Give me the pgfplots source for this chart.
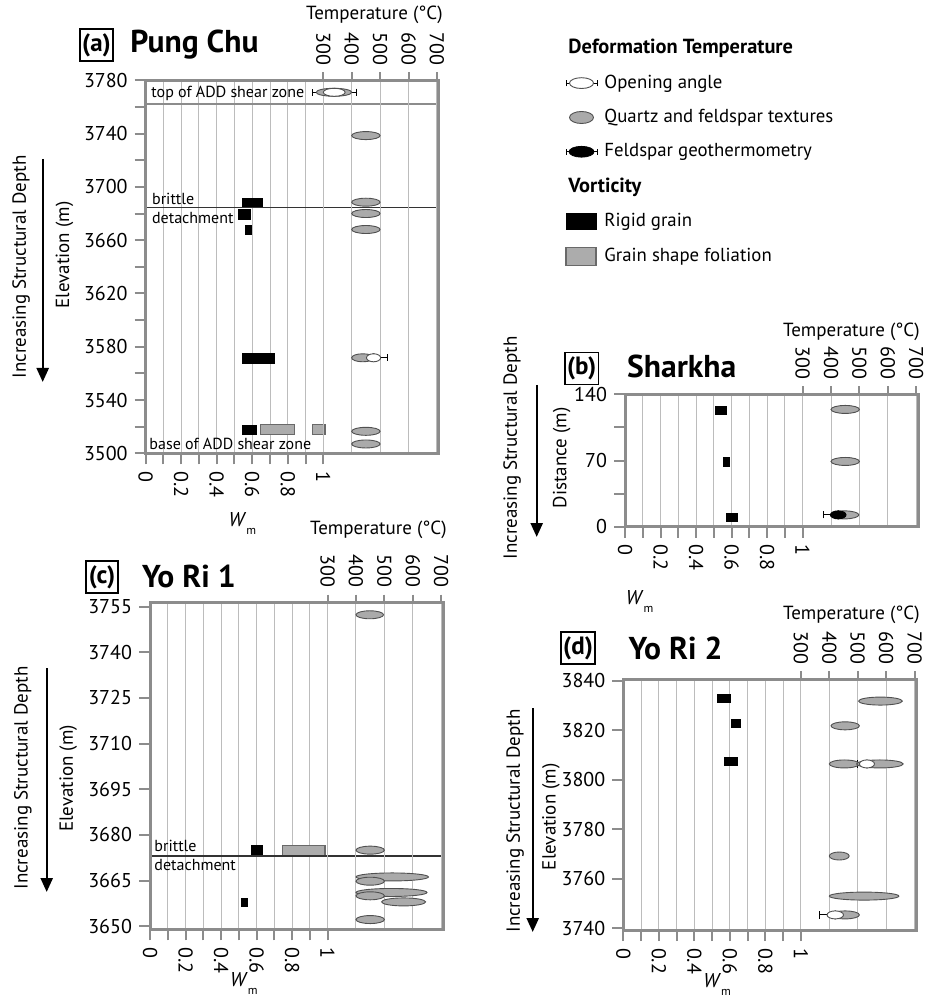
\documentclass[border=0pt]{standalone}
\usepackage{fontspec}
\setmainfont{PT Sans}
\usepackage{pgfplots}
\usepackage{pgfplotstable}
\pgfplotsset{compat=1.18}
\usetikzlibrary{arrows.meta}

\definecolor{framegray}{RGB}{140,140,140}
\definecolor{gridgray}{RGB}{188,188,188}
\definecolor{qfill}{RGB}{170,170,170}
\definecolor{qedge}{RGB}{80,80,80}
\definecolor{gsffill}{RGB}{172,172,172}
\definecolor{gsfedge}{RGB}{105,105,105}

\newcommand{\ticksize}{\fontsize{10}{12}\selectfont}
\newcommand{\labsize}{\fontsize{9.5}{11}\selectfont}
\newcommand{\keysize}{\fontsize{9.4}{11}\selectfont}
\newcommand{\keyhead}[1]{{\fontsize{10.2}{12}\selectfont\bfseries #1}}
\newcommand{\notesize}{\fontsize{8}{10}\selectfont}
\newcommand{\wm}{\textit{W}\raisebox{-4pt}{\fontsize{6}{7}\selectfont m}}

% temperature axes: 146.5pt wide over 1031.25 degrees C
\newcommand{\Tunit}{0.142061}

% ellipse marker, horizontal radius given per point in \ellrx
\pgfdeclareplotmark{ell}{%
  \pgfpathellipse{\pgfpointorigin}{\pgfpoint{\ellrx}{0pt}}{\pgfpoint{0pt}{\pgfplotmarksize}}%
  \pgfusepathqfillstroke}

%---------------- data ----------------
% temperature ranges (deg C) from quartz and feldspar textures
\pgfplotstableread{
lo  hi  y
275 400 3771
400 500 3738.5
400 500 3688.5
400 500 3680
400 500 3668
400 478 3571.7
400 500 3516.5
400 500 3507
}\PCtex
% opening-angle temperatures with uncertainty limits
\pgfplotstableread{
lo  hi  y      elo ehi
300 377 3771   262 418
452 502 3571.7 442 525
}\PCoa
\pgfplotstableread{
lo  hi  y
400 500 124
400 500 69
398 498 12.5
}\SKtex
% feldspar geothermometry
\pgfplotstableread{
lo  hi  y    elo ehi
398 453 12.5 375 468
}\SKfs
\pgfplotstableread{
lo  hi  y
400 497 3752.3
400 500 3675.0
400 655 3666.2
400 500 3664.8
400 650 3661.1
400 500 3660.0
490 645 3658.0
400 500 3652.2
}\YAtex
\pgfplotstableread{
lo  hi  y
503 657 3831.8
406 506 3821.8
400 506 3806.4
496 660 3806.4
400 470 3769.2
400 645 3753
406 506 3745.4
}\YBtex
\pgfplotstableread{
lo  hi  y      elo ehi
506 559 3806.4 500 588
392 450 3745.4 367 471
}\YBoa

\tikzset{
  note/.style={anchor=west, inner sep=0pt, font=\notesize},
  ttitle/.style={anchor=west, inner sep=0pt, font=\fontsize{15.8}{18}\selectfont\bfseries},
  tbox/.style={draw, line width=0.65pt, inner sep=1pt, minimum width=16pt, minimum height=16pt, font=\fontsize{12.5}{14}\selectfont\bfseries},
  vlab/.style={rotate=90, font=\labsize, inner sep=0pt},
  tlab/.style={anchor=east, font=\labsize, inner sep=0pt},
  deptharrow/.style={line width=1.2pt, -{Triangle[length=7pt, width=6pt]}},
}

\pgfplotsset{
  waxis/.style={
    scale only axis, width=146.5pt, anchor=south west,
    xmin=0, xmax=1.65,
    xtick={0,0.2,0.4,0.6,0.8,1}, minor xtick={0.1,0.3,0.5,0.7,0.9},
    xmajorgrids, xminorgrids,
    grid style={gridgray, line width=0.5pt},
    minor grid style={gridgray, line width=0.5pt},
    xtick pos=left, ytick pos=left, tick align=outside,
    major tick length=5.5pt, minor tick length=5.5pt,
    axis line style={framegray, line width=1.5pt},
    tick style={framegray, line width=1pt},
    tick label style={font=\ticksize},
    xticklabel style={rotate=-90, anchor=west},
    /pgf/number format/assume math mode=true,
    /pgf/number format/1000 sep={},
    scaled ticks=false,
    xlabel={\wm},
    every axis x label/.style={at={(rel axis cs:0.33,0)}, anchor=center},
  },
  taxis/.style={
    scale only axis, width=146.5pt, anchor=south west,
    xmin=-325, xmax=706.25,
    xtick={300,400,500,600,700}, ytick=\empty,
    xtick pos=right, xticklabel pos=right,
    xmajorgrids, grid style={gridgray, line width=0.5pt},
    tick align=outside, major tick length=4pt,
    axis line style={framegray, line width=1.5pt},
    tick style={framegray, line width=1pt},
    tick label style={font=\ticksize},
    xticklabel style={rotate=-90, anchor=east},
    /pgf/number format/assume math mode=true,
    /pgf/number format/1000 sep={},
  },
  rigid/.style={fill=black, draw=none},
  gsf/.style={fill=gsffill, draw=gsfedge, line width=0.6pt},
  ellbase/.style={
    only marks, scatter, mark=ell, mark size=2pt,
    visualization depends on={(\thisrow{hi}-\thisrow{lo})*\Tunit/2 \as \ellrx},
    scatter/@pre marker code/.code={\pgfscope},
    scatter/@post marker code/.code={\endpgfscope},
  },
  quartz/.style={ellbase, mark options={fill=qfill, draw=qedge, line width=0.45pt}},
  opening/.style={ellbase, mark options={fill=white, draw=qedge, line width=0.45pt}},
  feldspar/.style={ellbase, mark options={fill=black, draw=black, line width=0.45pt}},
  whisk/.style={only marks, mark=none,
    error bars/.cd, x dir=both, x explicit,
    error bar style={black, line width=0.45pt},
    error mark options={rotate=90, black, line width=0.45pt, mark size=1.8pt}},
}

\begin{document}
\begin{tikzpicture}
\useasboundingbox (0pt,0pt) rectangle (462.5pt,-499.5pt);

%================ (a) Pung Chu ================
\begin{axis}[waxis, at={(72.85pt,-226.65pt)}, height=186.5pt,
  ymin=3500, ymax=3780, ytick={3500,3540,...,3780}, minor ytick={3520,3560,...,3760},
  xlabel style={at={(rel axis cs:0.33,0)}, yshift=-35pt}]
  \addplot[rigid] coordinates {(0.54,3684.5) (0.66,3684.5) (0.66,3692) (0.54,3692)};
  \addplot[rigid] coordinates {(0.52,3675) (0.595,3675) (0.595,3683.2) (0.52,3683.2)};
  \addplot[rigid] coordinates {(0.56,3663.5) (0.60,3663.5) (0.60,3671.7) (0.56,3671.7)};
  \addplot[rigid] coordinates {(0.54,3566.7) (0.73,3566.7) (0.73,3575.2) (0.54,3575.2)};
  \addplot[rigid] coordinates {(0.545,3514) (0.625,3514) (0.625,3521.5) (0.545,3521.5)};
  \addplot[gsf] coordinates {(0.645,3514) (0.84,3514) (0.84,3521.5) (0.645,3521.5) (0.645,3514)};
  \addplot[gsf] coordinates {(0.94,3514) (1.01,3514) (1.01,3521.5) (0.94,3521.5) (0.94,3514)};
  % top of shear zone and brittle detachment
  \addplot[framegray, line width=1pt] coordinates {(0,3762) (1.65,3762)};
  \addplot[black!80, line width=0.6pt] coordinates {(0,3684.7) (1.65,3684.7)};
  \node[note] at (axis cs:0.03,3770) {top of ADD shear zone};
  \node[note] at (axis cs:0.034,3691.3) {brittle};
  \node[note] at (axis cs:0.034,3677) {detachment};
  \node[note] at (axis cs:0.019,3507) {base of ADD shear zone};
\end{axis}
\begin{axis}[taxis, at={(72.85pt,-226.65pt)}, height=186.5pt, ymin=3500, ymax=3780]
  \addplot[quartz] table[x expr={(\thisrow{lo}+\thisrow{hi})/2}, y=y] {\PCtex};
  \addplot[whisk] table[x expr={(\thisrow{lo}+\thisrow{hi})/2}, y=y,
    x error plus expr={\thisrow{ehi}-(\thisrow{lo}+\thisrow{hi})/2},
    x error minus expr={(\thisrow{lo}+\thisrow{hi})/2-\thisrow{elo}}] {\PCoa};
  \addplot[opening] table[x expr={(\thisrow{lo}+\thisrow{hi})/2}, y=y] {\PCoa};
\end{axis}

%================ (b) Sharkha ================
\begin{axis}[waxis, at={(312.5pt,-263.35pt)}, height=66.2pt,
  ymin=0, ymax=140, ytick={0,70,140}, minor ytick={35,105},
  xlabel style={at={(rel axis cs:0.05,0)}, yshift=-37.5pt}]
  \addplot[rigid] coordinates {(0.505,118) (0.575,118) (0.575,127.6) (0.505,127.6)};
  \addplot[rigid] coordinates {(0.553,63.5) (0.594,63.5) (0.594,73.4) (0.553,73.4)};
  \addplot[rigid] coordinates {(0.568,4.6) (0.637,4.6) (0.637,14.2) (0.568,14.2)};
\end{axis}
\begin{axis}[taxis, at={(312.5pt,-263.35pt)}, height=66.2pt, ymin=0, ymax=140]
  \addplot[quartz] table[x expr={(\thisrow{lo}+\thisrow{hi})/2}, y=y] {\SKtex};
  \addplot[whisk] table[x expr={(\thisrow{lo}+\thisrow{hi})/2}, y=y,
    x error plus expr={\thisrow{ehi}-(\thisrow{lo}+\thisrow{hi})/2},
    x error minus expr={(\thisrow{lo}+\thisrow{hi})/2-\thisrow{elo}}] {\SKfs};
  \addplot[feldspar] table[x expr={(\thisrow{lo}+\thisrow{hi})/2}, y=y] {\SKfs};
\end{axis}

%================ (c) Yo Ri 1 ================
\begin{axis}[waxis, at={(75pt,-464.65pt)}, height=163.35pt,
  ymin=3649, ymax=3756.3, ytick={3650,3665,...,3755},
  xlabel style={at={(rel axis cs:0.32,0)}, yshift=-27.3pt}]
  \addplot[rigid] coordinates {(0.568,3673.1) (0.639,3673.1) (0.639,3676.6) (0.568,3676.6)};
  \addplot[rigid] coordinates {(0.515,3656.3) (0.551,3656.3) (0.551,3659.4) (0.515,3659.4)};
  \addplot[gsf] coordinates {(0.746,3673.1) (0.985,3673.1) (0.985,3676.6) (0.746,3676.6) (0.746,3673.1)};
  \addplot[black!80, line width=0.6pt] coordinates {(0,3673.1) (1.65,3673.1)};
  \node[note] at (axis cs:0.023,3676.3) {brittle};
  \node[note] at (axis cs:0.023,3670) {detachment};
\end{axis}
\begin{axis}[taxis, at={(75pt,-464.65pt)}, height=163.35pt, ymin=3649, ymax=3756.3]
  \addplot[quartz] table[x expr={(\thisrow{lo}+\thisrow{hi})/2}, y=y] {\YAtex};
\end{axis}

%================ (d) Yo Ri 2 ================
\begin{axis}[waxis, at={(311.65pt,-465pt)}, height=125.35pt,
  ymin=3739.3, ymax=3840.6, ytick={3740,3760,...,3840},
  xlabel style={at={(rel axis cs:0.32,0)}, yshift=-27.3pt}]
  \addplot[rigid] coordinates {(0.529,3830.9) (0.608,3830.9) (0.608,3834.5) (0.529,3834.5)};
  \addplot[rigid] coordinates {(0.604,3820.9) (0.664,3820.9) (0.664,3824.4) (0.604,3824.4)};
  \addplot[rigid] coordinates {(0.566,3805.7) (0.645,3805.7) (0.645,3809.3) (0.566,3809.3)};
\end{axis}
\begin{axis}[taxis, at={(311.65pt,-465pt)}, height=125.35pt, ymin=3739.3, ymax=3840.6]
  \addplot[quartz] table[x expr={(\thisrow{lo}+\thisrow{hi})/2}, y=y] {\YBtex};
  \addplot[whisk] table[x expr={(\thisrow{lo}+\thisrow{hi})/2}, y=y,
    x error plus expr={\thisrow{ehi}-(\thisrow{lo}+\thisrow{hi})/2},
    x error minus expr={(\thisrow{lo}+\thisrow{hi})/2-\thisrow{elo}}] {\YBoa};
  \addplot[opening] table[x expr={(\thisrow{lo}+\thisrow{hi})/2}, y=y] {\YBoa};
\end{axis}

%================ key ================
\begin{axis}[hide axis, scale only axis, width=10pt, height=10pt,
  xmin=0, xmax=1, ymin=0, ymax=1,
  at={(282.5pt,-19pt)}, anchor=north west,
  legend cell align=left,
  legend style={at={(0,1)}, anchor=north west, draw=none, fill=none,
    inner sep=0pt, row sep=8pt, font=\keysize,
    nodes={inner sep=0.5pt},
    /tikz/every odd column/.append style={column sep=3pt}}]
  \addlegendimage{empty legend}
  \addlegendentry{\hspace*{-18pt}\keyhead{Deformation Temperature}}
  \addlegendimage{legend image code/.code={%
    \draw[black, line width=0.45pt] (0pt,0pt) -- (15.5pt,0pt) (0pt,-1.6pt) -- (0pt,1.6pt) (15.5pt,-1.6pt) -- (15.5pt,1.6pt);
    \draw[fill=white, draw=qedge, line width=0.45pt] (7.75pt,0pt) ellipse [x radius=6pt, y radius=2.7pt];}}
  \addlegendentry{Opening angle}
  \addlegendimage{legend image code/.code={%
    \draw[fill=qfill, draw=qedge, line width=0.45pt] (7.75pt,0pt) ellipse [x radius=6pt, y radius=3pt];}}
  \addlegendentry{Quartz and feldspar textures}
  \addlegendimage{legend image code/.code={%
    \draw[black, line width=0.45pt] (0pt,0pt) -- (15.5pt,0pt) (0pt,-1.6pt) -- (0pt,1.6pt) (15.5pt,-1.6pt) -- (15.5pt,1.6pt);
    \fill[black] (7.75pt,0pt) ellipse [x radius=6.25pt, y radius=2.7pt];}}
  \addlegendentry{Feldspar geothermometry}
  \addlegendimage{empty legend}
  \addlegendentry{\hspace*{-18pt}\keyhead{Vorticity}}
  \addlegendimage{legend image code/.code={\fill[black] (0pt,-4.2pt) rectangle (15pt,4.2pt);}}
  \addlegendentry{Rigid grain}
  \addlegendimage{legend image code/.code={\draw[fill=gsffill, draw=gsfedge, line width=0.6pt] (0pt,-4.5pt) rectangle (15pt,4.5pt);}}
  \addlegendentry{Grain shape foliation}
\end{axis}

%================ titles and side labels ================
\begin{scope}[x=0.5pt, y=-0.5pt]
  \node[tbox] at (96.5,45) {(a)};
  \node[ttitle] at (130,45) {Pung Chu};
  \node[tbox] at (581.7,368.3) {(b)};
  \node[ttitle] at (626.7,366) {Sharkha};
  \node[tbox] at (102,577) {(c)};
  \node[ttitle] at (141.7,576) {Yo Ri 1};
  \node[tbox] at (578,648) {(d)};
  \node[ttitle] at (628.3,648.3) {Yo Ri 2};

  \node[tlab] at (443,15) {Temperature (°C)};
  \node[tlab] at (920,331.7) {Temperature (°C)};
  \node[tlab] at (447,530) {Temperature (°C)};
  \node[tlab] at (920,615) {Temperature (°C)};

  \node[vlab] at (64.5,255) {Elevation (m)};
  \node[vlab] at (561.7,458) {Distance (m)};
  \node[vlab] at (68.3,778.5) {Elevation (m)};
  \node[vlab] at (551,816.7) {Elevation (m)};

  \node[vlab] at (21,267) {Increasing Structural Depth};
  \node[vlab] at (512,448) {Increasing Structural Depth};
  \node[vlab] at (23,778) {Increasing Structural Depth};
  \node[vlab] at (515,821) {Increasing Structural Depth};

  \draw[deptharrow] (42.7,159) -- (42.7,382);
  \draw[deptharrow] (536.7,385) -- (536.7,537);
  \draw[deptharrow] (46.7,668) -- (46.7,892);
  \draw[deptharrow] (532.7,708) -- (532.7,932);
\end{scope}
\end{tikzpicture}
\end{document}
